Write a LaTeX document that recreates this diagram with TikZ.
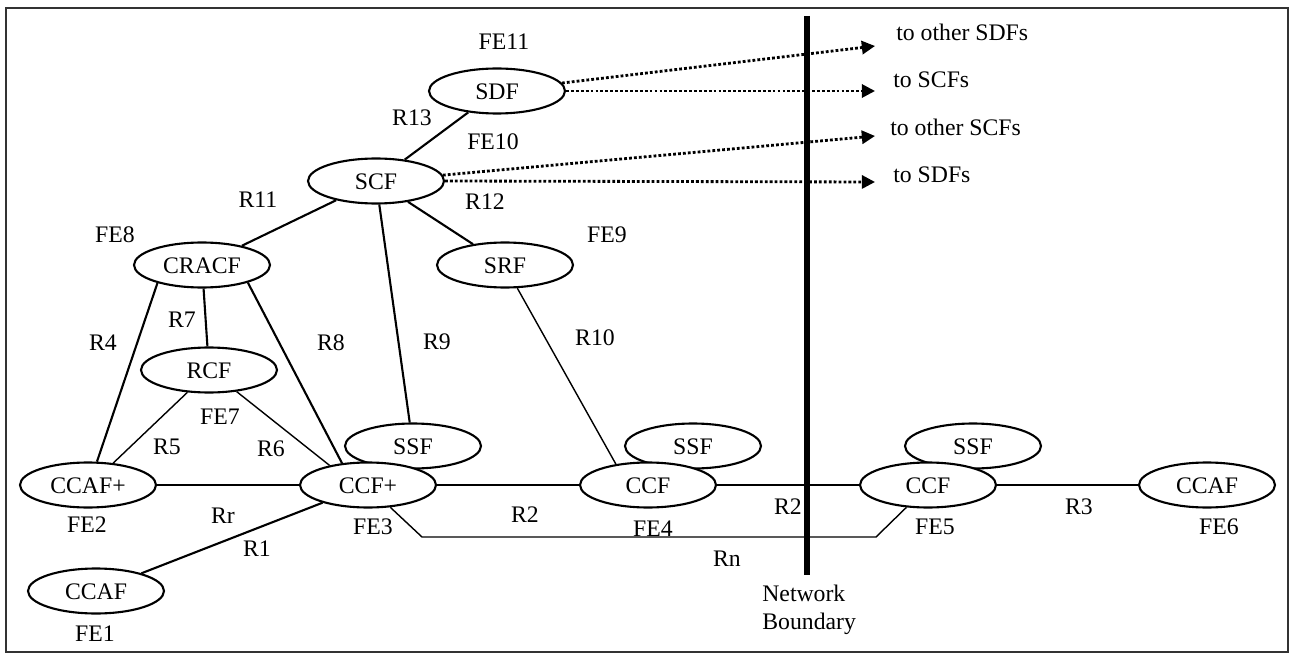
\documentclass[tikz,border=0pt]{standalone}
\usepackage{fontspec}
\setmainfont{Liberation Serif}
\usetikzlibrary{shapes.geometric,arrows.meta}
\tikzset{
  fe/.style={ellipse, draw, line width=1.2pt, fill=white, minimum width=2.72cm, minimum height=0.9cm, inner sep=0pt, text height=2.1ex, text depth=0pt},
  lbl/.style={inner sep=0pt},
  link/.style={line width=1.2pt},
  thinlink/.style={line width=0.8pt},
  outlink/.style={line width=1.6pt, dash pattern=on 1.6pt off 1.2pt, -{Triangle[length=7.5pt,width=7.5pt]}}
}
\begin{document}
\begin{tikzpicture}[x=0.02cm, y=-0.02cm, font=\fontsize{13.5}{16}\selectfont]
\useasboundingbox (0,0) rectangle (1291,655);
\draw [line width=0.8pt, black!80] (6,8) rectangle (1288,652);

\node [fe] (sdf) at (497,91) {SDF};
\node [fe] (scf) at (376,181) {SCF};
\node [fe] (cracf) at (202,265) {CRACF};
\node [fe] (srf) at (505,265) {SRF};
\node [fe] (rcf) at (209,370) {RCF};
\node [fe] (ssfa) at (413,446) {SSF};
\node [fe] (ssfb) at (693,446) {SSF};
\node [fe] (ssfc) at (973,446) {SSF};
\node [fe] (ccafp) at (88,485) {CCAF+};
\node [fe] (ccfp) at (368,485) {CCF+};
\node [fe] (ccfa) at (648,485) {CCF};
\node [fe] (ccfb) at (928,485) {CCF};
\node [fe] (ccafr) at (1207,485) {CCAF};
\node [fe] (ccafl) at (96,591) {CCAF};

\coordinate (rnl) at (422,537);
\coordinate (rnr) at (876,537);
\coordinate (tipa) at (875,46);
\coordinate (tipb) at (875,91);
\coordinate (tipc) at (875,136);
\coordinate (tipd) at (875,182);
\coordinate (nbtop) at (807,16);
\coordinate (nbbot) at (807,575);

\draw [link] (sdf) -- (scf);
\draw [link] (scf) -- (cracf);
\draw [link] (scf) -- (ssfa);
\draw [link] (scf) -- (srf);
\draw [link] (cracf.202) -- (ccafp.69);
\draw [link] (cracf) -- (rcf);
\draw [link] (cracf.339) -- (ccfp.140);
\draw [thinlink] (rcf.226) -- (ccafp.41);
\draw [thinlink] (rcf.322) -- (ccfp.153);
\draw [link] (ccafp) -- (ccfp);
\draw [link] (ccafl) -- (ccfp);
\draw [link] (ccfp) -- (ccfa);
\draw [link] (ccfa) -- (ccfb);
\draw [link] (ccfb) -- (ccafr);
\draw [thinlink] (srf.298) -- (ccfa.147);
\draw [thinlink] (ccfp.315) -- (rnl) -- (rnr) -- (ccfb.226);

\draw [outlink] (sdf.7) -- (tipa);
\draw [outlink] (sdf.east) -- (tipb);
\draw [outlink] (scf.5) -- (tipc);
\draw [outlink] (scf.east) -- (tipd);

\draw [line width=3.4pt] (nbtop) -- (nbbot);

\node [lbl, anchor=west] (osdf) at (896,32) {to other SDFs};
\node [lbl, anchor=west] (tscf) at (893,80) {to SCFs};
\node [lbl, anchor=west] (oscf) at (890,127) {to other SCFs};
\node [lbl, anchor=west] (tsdf) at (893,175) {to SDFs};

\node [lbl] (fe11) at (504,42) {FE11};
\node [lbl] (r13) at (412,118) {R13};
\node [lbl] (fe10) at (493,142) {FE10};
\node [lbl] (r11) at (258,200) {R11};
\node [lbl] (r12) at (485,202) {R12};
\node [lbl] (fe8) at (115,235) {FE8};
\node [lbl] (fe9) at (607,235) {FE9};
\node [lbl] (r7) at (182,320) {R7};
\node [lbl] (r4) at (103,343) {R4};
\node [lbl] (r8) at (331,343) {R8};
\node [lbl] (r9) at (437,342) {R9};
\node [lbl] (r10) at (595,338) {R10};
\node [lbl] (fe7) at (220,417) {FE7};
\node [lbl] (r5) at (167,447) {R5};
\node [lbl] (r6) at (271,449) {R6};
\node [lbl] (fe2) at (87,525) {FE2};
\node [lbl] (rr) at (223,516) {Rr};
\node [lbl] (r1) at (257,549) {R1};
\node [lbl] (fe3) at (373,527) {FE3};
\node [lbl] (fe1) at (95,634) {FE1};
\node [lbl] (r2a) at (525,515) {R2};
\node [lbl] (fe4) at (653,529) {FE4};
\node [lbl] (r2b) at (788,507) {R2};
\node [lbl] (rn) at (727,559) {Rn};
\node [lbl] (fe5) at (935,527) {FE5};
\node [lbl] (r3) at (1079,507) {R3};
\node [lbl] (fe6) at (1219,527) {FE6};
\node [lbl, anchor=west, align=left] (nb) at (762,610) {Network\\Boundary};
\end{tikzpicture}
\end{document}
